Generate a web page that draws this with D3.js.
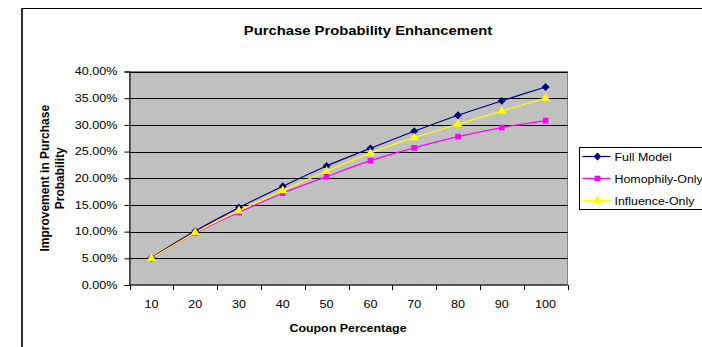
<!DOCTYPE html>
<html>
<head>
<meta charset="utf-8">
<script src="https://cdn.jsdelivr.net/npm/d3@7/dist/d3.min.js"></script>
<style>
  html, body { margin: 0; padding: 0; background: #ffffff; }
  svg { display: block; }
</style>
</head>
<body>
<div id="chart"></div>
<script>
(function () {
  "use strict";

  // Chart data
  const coupons = [10, 20, 30, 40, 50, 60, 70, 80, 90, 100];
  const fullModel = [0.051, 0.101, 0.145, 0.185, 0.223, 0.256, 0.288, 0.318, 0.345, 0.371];
  const homophilyOnly = [0.050, 0.097, 0.136, 0.172, 0.203, 0.233, 0.257, 0.278, 0.295, 0.308];
  const influenceOnly = [0.050, 0.098, 0.139, 0.177, 0.213, 0.247, 0.276, 0.301, 0.326, 0.350];
  const yTicks = [0, 0.05, 0.10, 0.15, 0.20, 0.25, 0.30, 0.35, 0.40];

  const series = [
    { name: "Full Model", values: fullModel, color: "#000080", marker: "diamond" },
    { name: "Homophily-Only", values: homophilyOnly, color: "#FF00FF", marker: "square" },
    { name: "Influence-Only", values: influenceOnly, color: "#FFFF00", marker: "triangle" }
  ];

  const W = 702, H = 347;
  const FONT = "'Liberation Sans', Arial, sans-serif";

  // Plot area bounds (px)
  const plot = { left: 129.5, top: 71.5, right: 567.5, bottom: 285 };

  const svg = d3.select("#chart").append("svg")
    .attr("width", W).attr("height", H);

  // The original picture looks stretched sideways, so text gets a horizontal scale
  function label(parent, x, y, str, opts) {
    const o = Object.assign({ size: 11, sx: 1.1, anchor: "start", weight: "normal", dy: null }, opts);
    const t = parent.append("text")
      .attr("transform", `translate(${x},${y}) scale(${o.sx},1)`)
      .attr("text-anchor", o.anchor)
      .attr("font-family", FONT).attr("font-size", o.size + "px")
      .attr("font-weight", o.weight).attr("fill", "#000")
      .text(str);
    if (o.dy) t.attr("dy", o.dy);
    return t;
  }

  // Outer chart frame (right/bottom edges fall outside the picture)
  svg.append("rect")
    .attr("x", 21.5).attr("y", 8.5).attr("width", 740).attr("height", 400)
    .attr("fill", "#ffffff").attr("stroke", "#000").attr("stroke-width", 1);
  svg.append("line").attr("x1", 22).attr("x2", 22).attr("y1", 8).attr("y2", H)
    .attr("stroke", "#333").attr("stroke-width", 2);

  const x = d3.scaleBand().domain(coupons).range([plot.left, plot.right]);
  const y = d3.scaleLinear().domain([0, 0.40]).range([plot.bottom, plot.top]);

  // Plot area
  svg.append("rect")
    .attr("x", plot.left).attr("y", plot.top)
    .attr("width", plot.right - plot.left).attr("height", plot.bottom - plot.top)
    .attr("fill", "#C0C0C0").attr("stroke", "#808080").attr("stroke-width", 1);

  // Gridlines
  svg.append("g").selectAll("line").data(yTicks.slice(1)).join("line")
    .attr("x1", plot.left).attr("x2", plot.right)
    .attr("y1", d => Math.round(y(d)) + 0.5).attr("y2", d => Math.round(y(d)) + 0.5)
    .attr("stroke", "#000").attr("stroke-width", 1);

  // Y axis — line and ticks from d3, labels drawn stretched
  const yAxis = svg.append("g")
    .attr("transform", `translate(${plot.left},0)`)
    .call(d3.axisLeft(y).tickValues(yTicks).tickFormat("").tickSize(5));
  yAxis.select(".domain").attr("stroke", "#000");
  const pct = d3.format(".2%");
  yTicks.forEach(d => label(svg, plot.left - 12, y(d), pct(d), { size: 10.5, sx: 1.2, anchor: "end", dy: "0.35em" }));

  // X axis — ticks on band boundaries, labels centered in bands
  const xg = svg.append("g");
  xg.append("line")
    .attr("x1", plot.left).attr("x2", plot.right)
    .attr("y1", plot.bottom).attr("y2", plot.bottom)
    .attr("stroke", "#000");
  const bounds = coupons.map(c => x(c)).concat([x.range()[1]]);
  xg.selectAll("line.tick").data(bounds).join("line").attr("class", "tick")
    .attr("x1", d => Math.round(d) + 0.5).attr("x2", d => Math.round(d) + 0.5)
    .attr("y1", plot.bottom).attr("y2", plot.bottom + 5)
    .attr("stroke", "#000");
  coupons.forEach(c => label(xg, x(c) + x.bandwidth() / 2, plot.bottom + 22.5, c, { size: 10.5, sx: 1.2, anchor: "middle" }));

  // Lines (Excel-style smoothed)
  const line = d3.line()
    .x((d, i) => x(coupons[i]) + x.bandwidth() / 2)
    .y(d => y(d))
    .curve(d3.curveCatmullRom.alpha(0));

  const symbolFor = {
    diamond: d3.symbol().type(d3.symbolDiamond2).size(40),
    square: d3.symbol().type(d3.symbolSquare).size(32),
    triangle: d3.symbol().type(d3.symbolTriangle).size(36)
  };

  series.forEach(s => {
    svg.append("path").datum(s.values)
      .attr("d", line).attr("fill", "none")
      .attr("stroke", s.color).attr("stroke-width", 1.2);
  });
  series.forEach(s => {
    svg.append("g").selectAll("path").data(s.values).join("path")
      .attr("transform", (d, i) => `translate(${x(coupons[i]) + x.bandwidth() / 2},${y(d)})`)
      .attr("d", symbolFor[s.marker]())
      .attr("fill", s.color);
  });

  // Title
  label(svg, 368, 35, "Purchase Probability Enhancement", { size: 13, sx: 1.14, anchor: "middle", weight: "bold" });

  // X axis title
  label(svg, 348, 332, "Coupon Percentage", { size: 11.6, sx: 1.07, anchor: "middle", weight: "bold" });

  // Y axis title (two lines, rotated)
  const yTitle = svg.append("text")
    .attr("transform", `translate(49,${(plot.top + plot.bottom) / 2}) rotate(-90)`)
    .attr("text-anchor", "middle")
    .attr("font-family", FONT).attr("font-size", "12px").attr("font-weight", "bold");
  yTitle.append("tspan").attr("x", 0).attr("y", 0).text("Improvement in Purchase");
  yTitle.append("tspan").attr("x", 0).attr("y", 15).text("Probability");

  // Legend
  const legend = svg.append("g").attr("transform", "translate(579.5,147.5)");
  legend.append("rect").attr("width", 140).attr("height", 62)
    .attr("fill", "#fff").attr("stroke", "#000");
  series.forEach((s, i) => {
    const ly = 9 + i * 22;
    legend.append("line").attr("x1", 3).attr("x2", 31).attr("y1", ly).attr("y2", ly)
      .attr("stroke", s.color).attr("stroke-width", 1.2);
    legend.append("path").attr("transform", `translate(18,${ly})`)
      .attr("d", symbolFor[s.marker]()).attr("fill", s.color);
    label(legend, 35, ly + 4.5, s.name, { size: 11.5, sx: 1.08 });
  });
})();
</script>
</body>
</html>
